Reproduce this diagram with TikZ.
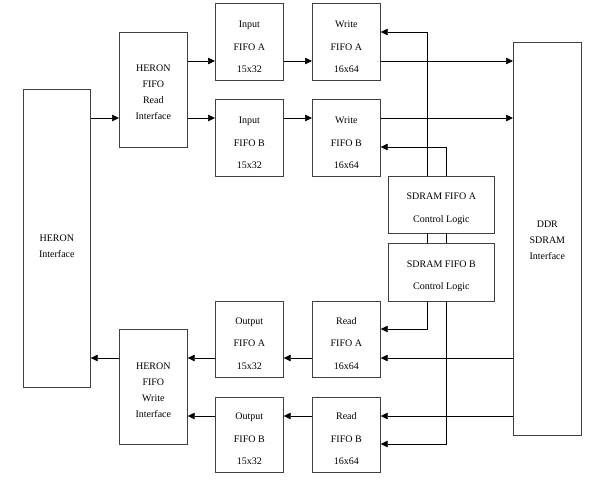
\documentclass[tikz,border=0pt]{standalone}
\usepackage{fontspec}
\setmainfont{Liberation Serif}
\usetikzlibrary{arrows.meta}
\begin{document}
\begin{tikzpicture}[x=1pt,y=-1pt,
  blk/.style={draw=black!75,line width=0.7pt,rectangle,anchor=north west,inner sep=0pt},
  fifo/.style={blk,minimum width=68pt,minimum height=77pt},
  hfifo/.style={blk,minimum width=68pt,minimum height=115pt},
  ctl/.style={blk,minimum width=106pt,minimum height=57pt},
  wtxt/.style={align=center,inner sep=0pt,font=\fontsize{10}{22.5}\selectfont},
  ntxt/.style={align=center,inner sep=0pt,font=\fontsize{10}{16}\selectfont},
  arr/.style={draw=black,line width=0.6pt,-{Triangle[length=7pt,width=6.5pt]}},
  ln/.style={draw=black,line width=0.6pt}]
\useasboundingbox (0,0) rectangle (594,479);
% rows
\coordinate (y32) at (0,32);
\coordinate (y61) at (0,61);
\coordinate (y118) at (0,118);
\coordinate (y147) at (0,147);
\coordinate (y329) at (0,329);
\coordinate (y358) at (0,358);
\coordinate (y416) at (0,416);
\coordinate (y444) at (0,444);
\coordinate (xa) at (427,0);
\coordinate (xb) at (446,0);
% blocks
\node[blk,minimum width=67pt,minimum height=298pt] (hi) at (23,89) {};
\node[hfifo] (ri) at (119,32) {};
\node[hfifo] (wi) at (119,329) {};
\node[fifo] (ia) at (215,3) {};
\node[fifo] (ib) at (215,99) {};
\node[fifo] (wa) at (312,3) {};
\node[fifo] (wb) at (312,99) {};
\node[fifo,minimum height=76pt] (oa) at (215,301) {};
\node[fifo,minimum height=75pt] (ob) at (215,397) {};
\node[fifo,minimum height=76pt] (rda) at (312,301) {};
\node[fifo,minimum height=75pt] (rdb) at (312,397) {};
\node[ctl] (ca) at (388,176) {};
\node[ctl,minimum height=58pt] (cb) at (388,243) {};
\node[blk,minimum width=68pt,minimum height=393pt] (ddr) at (513,42) {};
% texts
\node[ntxt,yshift=-8pt] (hit) at (hi.center) {HERON\\Interface};
\node[ntxt,yshift=-2pt] (rit) at (ri.center) {HERON\\FIFO\\Read\\Interface};
\node[ntxt,yshift=-3pt] (wit) at (wi.center) {HERON\\FIFO\\Write\\Interface};
\node[wtxt,yshift=-5pt] (iat) at (ia.center) {Input\\FIFO A\\15x32};
\node[wtxt,yshift=-5pt] (ibt) at (ib.center) {Input\\FIFO B\\15x32};
\node[wtxt,yshift=-5pt] (wat) at (wa.center) {Write\\FIFO A\\16x64};
\node[wtxt,yshift=-5pt] (wbt) at (wb.center) {Write\\FIFO B\\16x64};
\node[wtxt,yshift=-4pt] (oat) at (oa.center) {Output\\FIFO A\\15x32};
\node[wtxt,yshift=-4pt] (obt) at (ob.center) {Output\\FIFO B\\15x32};
\node[wtxt,yshift=-4pt] (rdat) at (rda.center) {Read\\FIFO A\\16x64};
\node[wtxt,yshift=-4pt] (rdbt) at (rdb.center) {Read\\FIFO B\\16x64};
\node[wtxt,yshift=-4pt] (cat) at (ca.center) {SDRAM FIFO A\\Control Logic};
\node[wtxt,yshift=-4pt] (cbt) at (cb.center) {SDRAM FIFO B\\Control Logic};
\node[ntxt,yshift=-1pt] (ddrt) at (ddr.center) {DDR\\SDRAM\\Interface};
% top flow
\draw[arr] (hi.east |- y118) -- (ri.west |- y118);
\draw[arr] (ri.east |- y61) -- (ia.west |- y61);
\draw[arr] (ri.east |- y118) -- (ib.west |- y118);
\draw[arr] (ia.east |- y61) -- (wa.west |- y61);
\draw[arr] (ib.east |- y118) -- (wb.west |- y118);
\draw[arr] (wa.east |- y61) -- (ddr.west |- y61);
\draw[arr] (wb.east |- y118) -- (ddr.west |- y118);
% control
\draw[arr] (ca.north -| xa) |- (wa.east |- y32);
\draw[arr] (ca.north -| xb) |- (wb.east |- y147);
\draw[ln] (ca.south -| xa) -- (cb.north -| xa);
\draw[ln] (ca.south -| xb) -- (cb.north -| xb);
\draw[arr] (cb.south -| xa) |- (rda.east |- y329);
\draw[arr] (cb.south -| xb) |- (rdb.east |- y444);
% bottom flow
\draw[arr] (ddr.west |- y358) -- (rda.east |- y358);
\draw[arr] (ddr.west |- y416) -- (rdb.east |- y416);
\draw[arr] (rda.west |- y358) -- (oa.east |- y358);
\draw[arr] (rdb.west |- y416) -- (ob.east |- y416);
\draw[arr] (oa.west |- y358) -- (wi.east |- y358);
\draw[arr] (ob.west |- y416) -- (wi.east |- y416);
\draw[arr] (wi.west |- y358) -- (hi.east |- y358);
\end{tikzpicture}
\end{document}
